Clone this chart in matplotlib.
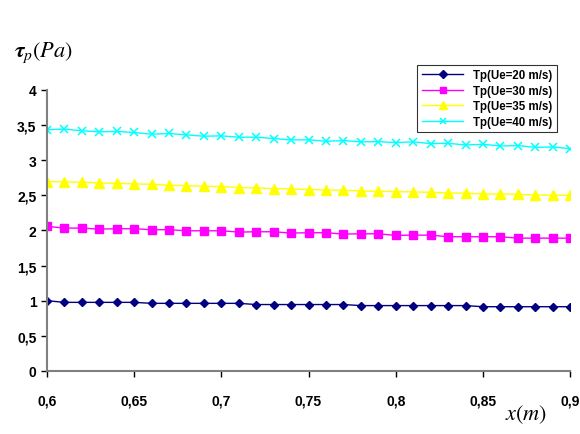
import numpy as np
import matplotlib
matplotlib.use("Agg")
import matplotlib.pyplot as plt
from matplotlib.ticker import FuncFormatter

# x positions (m)
x = [0.60, 0.61, 0.62, 0.63, 0.64, 0.65, 0.66, 0.67, 0.68, 0.69, 0.70,
     0.71, 0.72, 0.73, 0.74, 0.75, 0.76, 0.77, 0.78, 0.79, 0.80,
     0.81, 0.82, 0.83, 0.84, 0.85, 0.86, 0.87, 0.88, 0.89, 0.90]

# wall shear stress (Pa)
tp_20 = [1.00, 0.976, 0.976, 0.976, 0.976, 0.976, 0.962, 0.962, 0.962, 0.962, 0.962,
         0.962, 0.945, 0.945, 0.945, 0.945, 0.945, 0.945, 0.930, 0.930, 0.930,
         0.930, 0.930, 0.930, 0.930, 0.914, 0.914, 0.914, 0.914, 0.914, 0.914]
tp_30 = [2.057, 2.033, 2.033, 2.019, 2.024, 2.024, 2.010, 2.010, 1.995, 1.995, 1.995,
         1.976, 1.981, 1.981, 1.962, 1.967, 1.967, 1.948, 1.952, 1.952, 1.929,
         1.933, 1.933, 1.910, 1.910, 1.910, 1.910, 1.890, 1.890, 1.890, 1.890]
tp_35 = [2.695, 2.690, 2.686, 2.676, 2.671, 2.662, 2.657, 2.643, 2.638, 2.629, 2.624,
         2.610, 2.605, 2.595, 2.590, 2.581, 2.576, 2.571, 2.562, 2.557, 2.552,
         2.548, 2.543, 2.533, 2.529, 2.519, 2.519, 2.514, 2.505, 2.500, 2.500]
tp_40 = [3.433, 3.442, 3.418, 3.404, 3.409, 3.394, 3.370, 3.380, 3.360, 3.341, 3.346,
         3.327, 3.327, 3.308, 3.288, 3.290, 3.269, 3.279, 3.260, 3.264, 3.250,
         3.260, 3.236, 3.240, 3.216, 3.226, 3.202, 3.207, 3.183, 3.188, 3.163]

labels = ["Tp(Ue=20 m/s)", "Tp(Ue=30 m/s)", "Tp(Ue=35 m/s)", "Tp(Ue=40 m/s)"]

plt.rcParams['font.family'] = ['Liberation Sans Narrow', 'Liberation Sans', 'DejaVu Sans']
plt.rcParams['mathtext.fontset'] = 'stix'

fig = plt.figure(figsize=(5.8, 4.35), dpi=100)
ax = fig.add_axes([0.081, 0.145, 0.902, 0.646])

ax.plot(x, tp_20, color='#000080', marker='D', markersize=4.5, lw=1, label=labels[0])
ax.plot(x, tp_30, color='#FF00FF', marker='s', markersize=5.5, lw=1, label=labels[1])
ax.plot(x, tp_35, color='#FFFF00', marker='^', markersize=6.5, lw=1, label=labels[2])
ax.plot(x, tp_40, color='#00FFFF', marker='x', markersize=5.5, mew=1.1, lw=1, label=labels[3])

ax.set_xlim(0.6, 0.9)
ax.set_ylim(0, 4)
ax.set_xticks([0.6, 0.65, 0.7, 0.75, 0.8, 0.85, 0.9])
ax.set_yticks(np.arange(0, 4.01, 0.5))

comma = FuncFormatter(lambda v, p: ('%g' % round(v, 2)).replace('.', ','))
ax.xaxis.set_major_formatter(comma)
ax.yaxis.set_major_formatter(comma)

for s in ['top', 'right']:
    ax.spines[s].set_visible(False)
for s in ['left', 'bottom']:
    ax.spines[s].set_color('#808080')
    ax.spines[s].set_linewidth(1.5)
ax.tick_params(axis='both', colors='black', labelsize=10, length=4, width=1)
ax.tick_params(axis='x', pad=12)
for t in ax.get_xticklabels() + ax.get_yticklabels():
    t.set_fontweight('bold')
ax.set_clip_on(False)

fig.text(0.025, 0.87, r'$\boldsymbol{\tau}_{p}(Pa)$', fontsize=16)
fig.text(0.87, 0.035, r'$x(m)$', fontsize=16)

leg = ax.legend(loc='upper right', bbox_to_anchor=(0.985, 1.11), fontsize=8.3,
                frameon=True, fancybox=False, edgecolor='black', markerscale=0.8,
                borderpad=0.4, labelspacing=0.3, handlelength=3.6)
leg.get_frame().set_linewidth(0.8)
for t in leg.get_texts():
    t.set_fontweight('bold')

fig.savefig('out.png', dpi=100)
